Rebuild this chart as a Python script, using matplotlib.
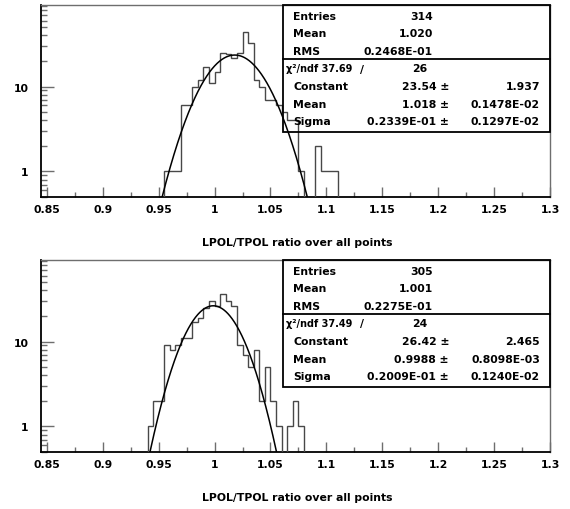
import numpy as np
import matplotlib
matplotlib.use("Agg")
import matplotlib.pyplot as plt
from matplotlib.patches import Rectangle
from matplotlib.lines import Line2D
from matplotlib.ticker import FixedLocator, LogLocator, NullFormatter, FixedFormatter

# ---------------- data ----------------
bin_width = 0.005
x_range = (0.845, 1.3)

top_first_bin = 0.955
top_counts = [1, 1, 1, 6, 6, 10, 12, 17, 11, 15, 25, 24, 22, 25, 44, 33,
              12, 10, 7, 7, 6, 5, 4, 4, 1, 0, 0, 2, 1, 1, 1]
top_fit = dict(const=23.54, mean=1.018, sigma=0.02339)
top_stats = [("Entries", "314"), ("Mean", "1.020"), ("RMS", "0.2468E-01")]
top_chi = ("37.69", "26")
top_pars = [("Constant", "23.54", "1.937"),
            ("Mean", "1.018", "0.1478E-02"),
            ("Sigma", "0.2339E-01", "0.1297E-02")]

bot_first_bin = 0.94
bot_counts = [1, 2, 2, 9, 8, 9, 11, 11, 17, 19, 25, 30, 26, 36, 30, 26,
              9, 7, 5, 8, 2, 5, 2, 1, 0, 1, 2, 1]
bot_fit = dict(const=26.42, mean=0.9988, sigma=0.02009)
bot_stats = [("Entries", "305"), ("Mean", "1.001"), ("RMS", "0.2275E-01")]
bot_chi = ("37.49", "24")
bot_pars = [("Constant", "26.42", "2.465"),
            ("Mean", "0.9988", "0.8098E-03"),
            ("Sigma", "0.2009E-01", "0.1240E-02")]

xticks = [0.85, 0.9, 0.95, 1.0, 1.05, 1.1, 1.15, 1.2, 1.25, 1.3]
xticklabels = ["0.85", "0.9", "0.95", "1", "1.05", "1.1", "1.15", "1.2", "1.25", "1.3"]
xlabel = "LPOL/TPOL ratio over all points"

# ---------------- figure ----------------
W, H = 570, 510
fig = plt.figure(figsize=(W / 100, H / 100), dpi=100)
FONT = dict(family="DejaVu Sans", weight="bold", size=7.8)
GRAY = "#6e6e6e"


def fx(px):
    return px / W


def fy(py):
    return 1 - py / H


def panel(top_px, first_bin, counts, fit, stats, chi, pars):
    left_px, right_px, bottom_px = 41.3, 550, top_px + 192
    ax = fig.add_axes([fx(left_px), fy(bottom_px), fx(right_px - left_px), (bottom_px - top_px) / H])
    ax.set_yscale("log")
    ax.set_xlim(*x_range)
    ax.set_ylim(0.5, 91.5)

    counts = np.asarray(counts, float)
    edges = first_bin + bin_width * np.arange(len(counts) + 1)
    vals = np.where(counts > 0, counts, 1e-3)
    ax.stairs(vals, edges, baseline=1e-3, color="#484848", lw=1.0, zorder=3)

    xs = np.linspace(x_range[0], x_range[1], 2000)
    ys = fit["const"] * np.exp(-0.5 * ((xs - fit["mean"]) / fit["sigma"]) ** 2)
    ax.plot(xs, ys, color="black", lw=1.1, zorder=4)

    # ticks
    ax.xaxis.set_major_locator(FixedLocator(xticks))
    ax.xaxis.set_major_formatter(FixedFormatter(xticklabels))
    ax.xaxis.set_minor_locator(FixedLocator(np.array(xticks[:-1]) + 0.025))
    ax.yaxis.set_major_locator(FixedLocator([1, 10]))
    ax.yaxis.set_major_formatter(FixedFormatter(["1", "10"]))
    ax.yaxis.set_minor_locator(LogLocator(base=10, subs=np.arange(2, 10), numticks=20))
    ax.yaxis.set_minor_formatter(NullFormatter())
    ax.tick_params(which="both", direction="in", color=GRAY, width=1.0)
    ax.tick_params(axis="x", which="major", length=7, pad=5)
    ax.tick_params(axis="x", which="minor", length=3.5)
    ax.tick_params(axis="y", which="major", length=9, pad=9)
    ax.tick_params(axis="y", which="minor", length=4)
    for lab in ax.get_xticklabels() + ax.get_yticklabels():
        lab.set_fontfamily(FONT["family"])
        lab.set_fontweight(FONT["weight"])
        lab.set_fontsize(FONT["size"])
    for s in ("left", "bottom"):
        ax.spines[s].set_color("black")
        ax.spines[s].set_linewidth(1.3)
    for s in ("top", "right"):
        ax.spines[s].set_color(GRAY)
        ax.spines[s].set_linewidth(1.0)

    # x label
    fig.text(fx(297), fy(top_px + 237), xlabel, ha="center", va="center", **FONT)

    # stats box
    bx0, bx1 = 283.3, right_px
    by0, bmid, by1 = top_px, top_px + 54, top_px + 126.5
    fig.patches.append(Rectangle((fx(bx0), fy(by1)), fx(bx1 - bx0), (by1 - by0) / H,
                                 transform=fig.transFigure, fill=False,
                                 edgecolor="black", lw=1.3, zorder=2))
    fig.lines.append(Line2D([fx(bx0), fx(bx1)], [fy(bmid), fy(bmid)],
                            transform=fig.transFigure, color="black", lw=1.3))
    row = 17.6
    y0 = top_px + 10.7
    for i, (lab, val) in enumerate(stats):
        yy = fy(y0 + i * row)
        fig.text(fx(293), yy, lab, ha="left", va="center", **FONT)
        fig.text(fx(433), yy, val, ha="right", va="center", **FONT)
    yy = fy(y0 + 3 * row)
    fig.text(fx(286), yy, "χ²/ndf " + chi[0], ha="left", va="center",
             family=FONT["family"], weight=FONT["weight"], size=7.0)
    fig.text(fx(362), yy, "/", ha="center", va="center", **FONT)
    fig.text(fx(427), yy, chi[1], ha="right", va="center", **FONT)
    for i, (lab, val, err) in enumerate(pars):
        yy = fy(y0 + (4 + i) * row)
        fig.text(fx(293), yy, lab, ha="left", va="center", **FONT)
        fig.text(fx(449), yy, val + " ±", ha="right", va="center", **FONT)
        fig.text(fx(540), yy, err, ha="right", va="center", **FONT)
    return ax


panel(6, top_first_bin, top_counts, top_fit, top_stats, top_chi, top_pars)
panel(261, bot_first_bin, bot_counts, bot_fit, bot_stats, bot_chi, bot_pars)

fig.savefig("out.png", dpi=100)
